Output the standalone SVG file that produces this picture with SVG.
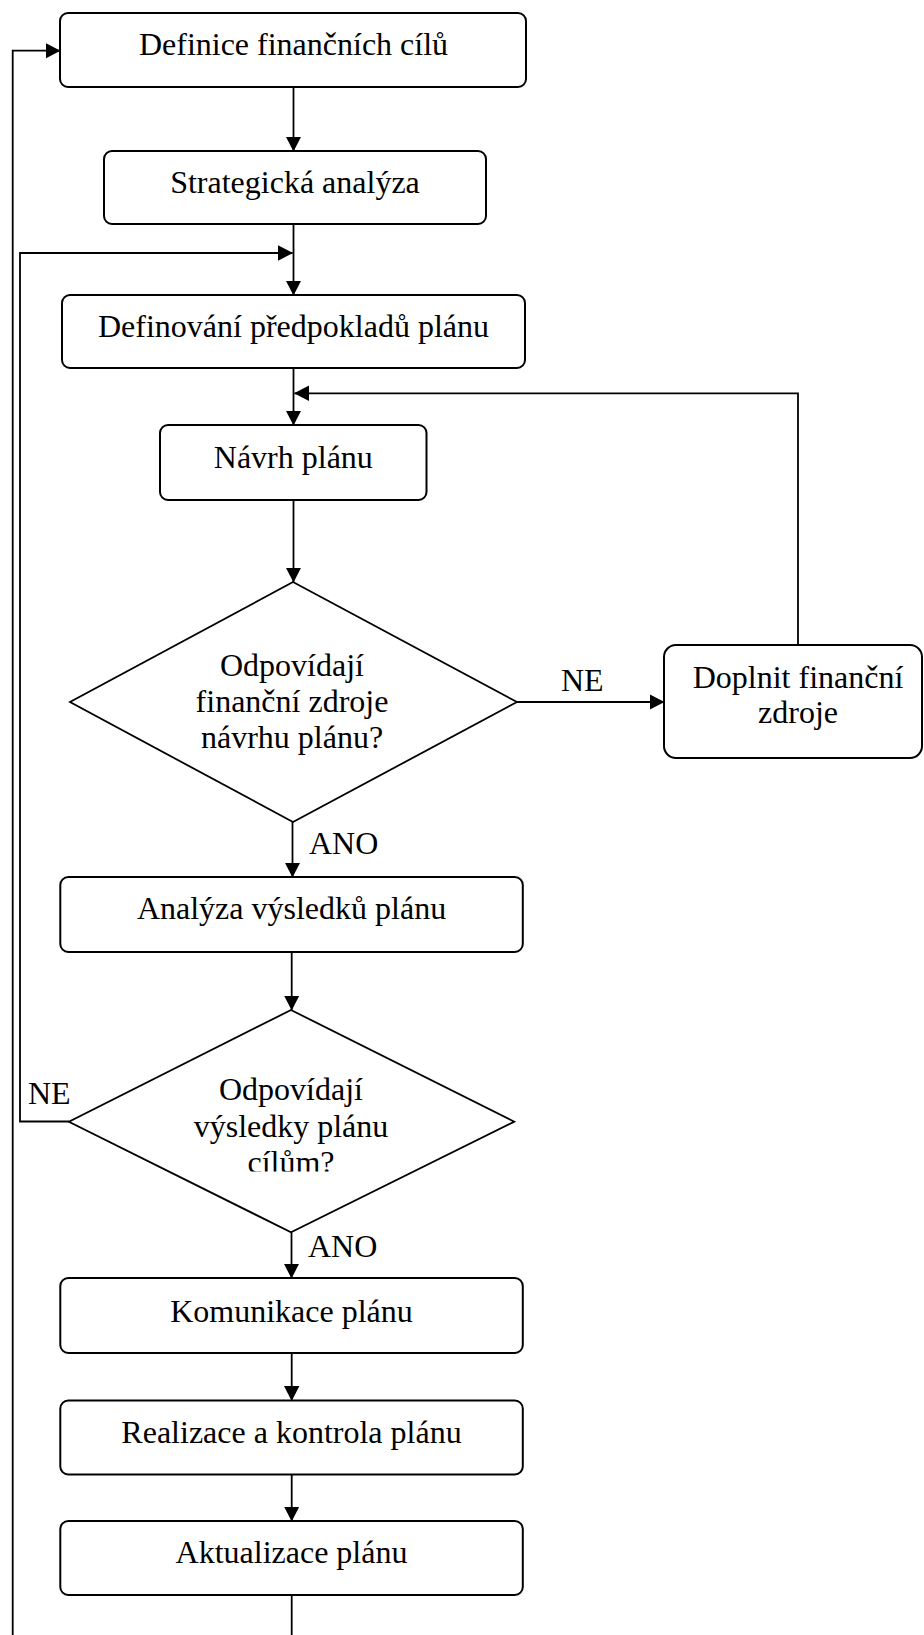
<svg xmlns="http://www.w3.org/2000/svg" width="924" height="1635" viewBox="0 0 924 1635">
  <style>
    .box { fill: #ffffff; stroke: #000000; stroke-width: 2; }
    .dia { fill: #ffffff; stroke: #000000; stroke-width: 1.8; }
    .ln { fill: none; stroke: #000000; stroke-width: 1.8; }
    .t { font-family: "Liberation Serif", "Times New Roman", serif; font-size: 32px; fill: #000000; text-anchor: middle; }
    .lbl { font-family: "Liberation Serif", "Times New Roman", serif; font-size: 32px; fill: #000000; }
  </style>
  <defs>
    <marker id="arr" markerUnits="userSpaceOnUse" viewBox="0 0 15 16" markerWidth="15" markerHeight="16" refX="14.5" refY="8" orient="auto">
      <path d="M0,0.3 L15,8 L0,15.7 z" fill="#000000"/>
    </marker>
    <clipPath id="clipC">
      <rect x="150" y="1140" width="300" height="31.5"/>
    </clipPath>
  </defs>
  <rect width="924" height="1635" fill="#ffffff"/>

  <g id="connectors">
    <path class="ln" d="M293.5,87 V151" marker-end="url(#arr)"/>
    <path class="ln" d="M293.5,224 V295" marker-end="url(#arr)"/>
    <path class="ln" d="M69,1121.5 H20 V253 H292.5" marker-end="url(#arr)"/>
    <path class="ln" d="M293.5,368 V425" marker-end="url(#arr)"/>
    <path class="ln" d="M798,645 V393.3 H294.5" marker-end="url(#arr)"/>
    <path class="ln" d="M293.5,500 V582" marker-end="url(#arr)"/>
    <path class="ln" d="M517,702 H664" marker-end="url(#arr)"/>
    <path class="ln" d="M292.5,822 V877" marker-end="url(#arr)"/>
    <path class="ln" d="M291.7,952 V1010" marker-end="url(#arr)"/>
    <path class="ln" d="M291.5,1232.3 V1278" marker-end="url(#arr)"/>
    <path class="ln" d="M291.7,1353 V1400.5" marker-end="url(#arr)"/>
    <path class="ln" d="M291.7,1474.5 V1521" marker-end="url(#arr)"/>
    <path class="ln" d="M291.7,1595 V1640"/>
    <path class="ln" d="M12.7,1640 V50.7 H60" marker-end="url(#arr)"/>
    <text class="lbl" x="561" y="691">NE</text>
    <text class="lbl" x="309" y="854">ANO</text>
    <text class="lbl" x="28" y="1104">NE</text>
    <text class="lbl" x="308" y="1257">ANO</text>
  </g>

  <g id="node-definice">
    <rect class="box" x="60" y="13" width="466" height="74" rx="8"/>
    <text class="t" x="293.5" y="54.5">Definice finančních cílů</text>
  </g>
  <g id="node-strategicka">
    <rect class="box" x="104" y="151" width="382" height="73" rx="8"/>
    <text class="t" x="295" y="193">Strategická analýza</text>
  </g>
  <g id="node-predpoklady">
    <rect class="box" x="62" y="295" width="463" height="73" rx="8"/>
    <text class="t" x="293.5" y="337">Definování předpokladů plánu</text>
  </g>
  <g id="node-navrh">
    <rect class="box" x="160" y="425" width="266.5" height="75" rx="8"/>
    <text class="t" x="293.3" y="468">Návrh plánu</text>
  </g>
  <g id="node-rozhodnuti1">
    <polygon class="dia" points="293,582 517,702 293,822 70,702"/>
    <text class="t" x="292" y="676">Odpovídají</text>
    <text class="t" x="292" y="712">finanční zdroje</text>
    <text class="t" x="292" y="748">návrhu plánu?</text>
  </g>
  <g id="node-doplnit">
    <rect class="box" x="664" y="645" width="258" height="113" rx="12"/>
    <text class="t" x="798" y="688">Doplnit finanční</text>
    <text class="t" x="798" y="723">zdroje</text>
  </g>
  <g id="node-analyza">
    <rect class="box" x="60.3" y="877" width="462.5" height="75" rx="8"/>
    <text class="t" x="291.5" y="918.5">Analýza výsledků plánu</text>
  </g>
  <g id="node-rozhodnuti2">
    <polygon class="dia" points="291,1010 514.2,1121.7 291,1232.3 68.9,1121.7"/>
    <text class="t" x="291" y="1100">Odpovídají</text>
    <text class="t" x="291" y="1136.7">výsledky plánu</text>
    <text class="t" x="291" y="1173.4" clip-path="url(#clipC)">cílům?</text>
  </g>
  <g id="node-komunikace">
    <rect class="box" x="60.3" y="1278" width="462.5" height="75" rx="8"/>
    <text class="t" x="291.5" y="1321.5">Komunikace plánu</text>
  </g>
  <g id="node-realizace">
    <rect class="box" x="60.3" y="1400.5" width="462.5" height="74" rx="8"/>
    <text class="t" x="291.5" y="1442.7">Realizace a kontrola plánu</text>
  </g>
  <g id="node-aktualizace">
    <rect class="box" x="60.3" y="1521" width="462.5" height="74" rx="8"/>
    <text class="t" x="291.5" y="1563.3">Aktualizace plánu</text>
  </g>
</svg>
